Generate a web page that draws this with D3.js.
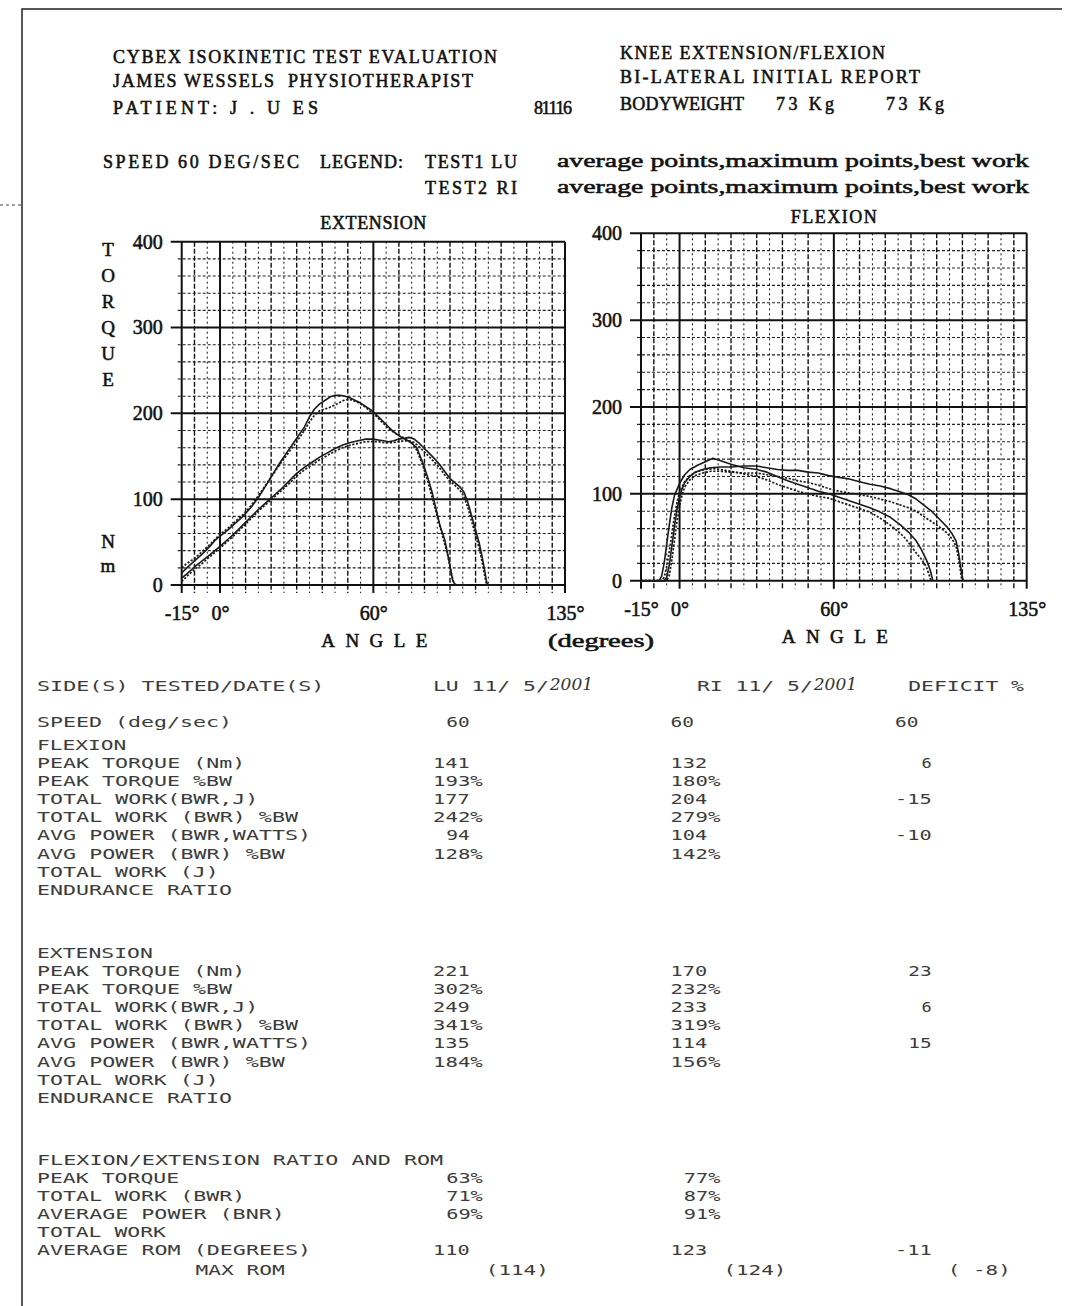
<!DOCTYPE html>
<html>
<head>
<meta charset="utf-8">
<script src="https://cdn.jsdelivr.net/npm/d3@7"></script>
<style>
  body { margin: 0; background: #fff; }
  svg { display: block; }
  .hdr { font-family: "Liberation Serif", "DejaVu Serif", serif; font-weight: normal; fill: #111; stroke: #111; stroke-width: 0.55; }
  .tbl { font-family: "DejaVu Sans Mono", monospace; fill: #3c3c3c; }
</style>
</head>
<body>
<svg id="page" width="1078" height="1306"></svg>
<script>
// ---- axis ticks ----
const angleTicks = [-15, 0, 60, 135];
const torqueTicks = [0, 100, 200, 300, 400];

// ---- extension curves: [angle (deg), torque (Nm)] ----
const extLUmax = [[-15,14],[-13,20],[-10,28],[-7,36],[-4,45],[-2,52],[0,57],[3,64],[6,72],[9,80],[12,90],[15,102],[18,116],[21,131],[24,145],[27,158],[30,171],[33,184],[35,196],[37,205],[39,211],[41,215],[43,219],[45,221],[47,221],[49,220],[51,218],[53,215],[55,212],[57,208],[59,204],[61,199],[63,193],[65,187],[67,181],[69,176],[71,172],[73,169],[75,165],[77,160],[79,145],[81,128],[83,108],[84,95],[86,70],[88,52],[89.5,30],[91,6],[92,0],[96,0]];
const extLUavg = [[-15,20],[-13,25],[-10,31],[-7,39],[-4,47],[-2,53],[0,59],[3,66],[6,74],[9,82],[12,92],[15,104],[18,117],[21,130],[24,143],[27,155],[30,167],[33,180],[35,190],[37,198],[39,203],[41,205],[43,207],[45,210],[47,213],[49,216],[51,216],[53,214],[55,211],[57,207],[59,202],[61,197],[63,191],[65,185],[67,180],[69,176],[71,173],[73,170],[75,166],[77,157],[79,142],[81,124],[83,102],[85,80],[87,58],[89,36],[90.5,14],[91.5,2],[92.5,0],[97,0]];
const extRImax = [[-15,8],[-13,13],[-10,21],[-7,28],[-4,35],[-2,40],[0,45],[3,53],[6,61],[9,70],[12,79],[15,88],[18,96],[21,104],[24,112],[27,121],[30,130],[33,137],[36,143],[39,149],[42,154],[45,159],[48,163],[51,166],[54,168],[57,170],[60,170],[62,169],[64,168],[66,167],[68,168],[70,170],[72,171],[74,172],[76,170],[78,165],[80,159],[82,153],[84,147],[86,140],[88,132],[90,124],[92,119],[94,114],[95.5,108],[97,96],[98.5,80],[100,64],[101.5,48],[102.5,34],[103.5,18],[104.3,4],[104.8,0],[109,0]];
const extRIavg = [[-15,4],[-13,10],[-10,18],[-7,25],[-4,33],[-2,38],[0,43],[3,51],[6,59],[9,68],[12,77],[15,86],[18,94],[21,102],[24,110],[27,118],[30,127],[33,134],[36,140],[39,146],[42,151],[45,156],[48,160],[51,163],[54,165],[57,167],[60,167],[62,167],[64,166],[66,166],[68,166],[70,167],[72,168],[74,168],[76,166],[78,161],[80,155],[82,149],[84,143],[86,136],[88,128],[90,121],[92,116],[94,110],[95.5,103],[97,90],[98.5,74],[100,58],[101.5,42],[102.5,28],[103.5,12],[104.2,2],[104.5,0],[108,0]];

// ---- flexion curves ----
const flxRImax = [[-15,0],[-6,0],[-5,4],[-4,18],[-3,40],[-2,62],[-1,82],[0,96],[1,106],[2,113],[4,120],[6,125],[9,128],[12,130],[16,131],[20,131],[25,132],[30,132],[34,130],[38,128],[42,127],[46,127],[50,125],[54,124],[58,121],[62,119],[66,117],[70,114],[74,111],[78,109],[82,106],[86,102],[89,99],[92,94],[95,87],[98,80],[101,71],[104,62],[106,54],[107.5,46],[108.5,32],[109.3,16],[110,4],[110.4,0]];
const flxRIavg = [[-15,0],[-5,0],[-4,6],[-3,24],[-2,46],[-1,68],[0,86],[1,99],[2,108],[4,116],[6,121],[9,124],[12,126],[16,126],[20,125],[25,124],[30,124],[34,122],[38,120],[42,118],[46,115],[50,113],[54,110],[58,106],[62,103],[66,101],[70,99],[74,97],[78,94],[82,91],[86,87],[89,84],[92,80],[95,74],[98,68],[101,62],[104,55],[106,48],[107.5,40],[108.5,26],[109.3,10],[109.8,0]];
const flxLUmax = [[-15,0],[-8,0],[-7,5],[-6,20],[-5,42],[-4,64],[-3,84],[-2,98],[0,112],[2,122],[4,128],[7,133],[10,137],[13,141],[16,138],[20,134],[25,130],[30,128],[34,125],[38,120],[42,115],[46,111],[50,107],[54,103],[58,100],[62,96],[66,92],[70,88],[74,84],[78,79],[82,73],[86,64],[89,56],[92,46],[94,36],[96,24],[97.5,12],[98.5,0]];
const flxLUavg = [[-15,0],[-7,0],[-6,4],[-5,16],[-4,34],[-3,54],[-2,74],[-1,90],[0,102],[2,114],[4,121],[7,126],[10,128],[13,129],[16,128],[20,126],[25,123],[30,120],[34,116],[38,111],[42,107],[46,103],[50,100],[54,97],[58,95],[62,91],[66,87],[70,83],[74,79],[78,72],[82,64],[86,54],[88,48],[90,40],[92,32],[94,25],[96,16],[97,7],[97.8,0]];

// ---- results table ----
const rowLabels = ["PEAK TORQUE (Nm)", "PEAK TORQUE %BW", "TOTAL WORK(BWR,J)", "TOTAL WORK (BWR) %BW",
                   "AVG POWER (BWR,WATTS)", "AVG POWER (BWR) %BW", "TOTAL WORK (J)", "ENDURANCE RATIO"];
const flexLU  = ["141", "193%", "177", "242%", "94", "128%", "", ""];
const flexRI  = ["132", "180%", "204", "279%", "104", "142%", "", ""];
const flexDef = ["6", "", "-15", "", "-10", "", "", ""];
const extLU   = ["221", "302%", "249", "341%", "135", "184%", "", ""];
const extRI   = ["170", "232%", "233", "319%", "114", "156%", "", ""];
const extDef  = ["23", "", "6", "", "15", "", "", ""];
const ratioLabels = ["PEAK TORQUE", "TOTAL WORK (BWR)", "AVERAGE POWER (BNR)", "TOTAL WORK", "AVERAGE ROM (DEGREES)"];
const ratioLU  = ["63%", "71%", "69%", "", "110"];
const ratioRI  = ["77%", "87%", "91%", "", "123"];
const ratioDef = ["", "", "", "", "-11"];
const maxRom = ["(114)", "(124)", "( -8)"];
const speedVals = ["60", "60", "60"];

const svg = d3.select("#page");

// page frame
svg.append("path").attr("d", "M22,1306 V9 H1062")
  .attr("fill", "none").attr("stroke", "#222").attr("stroke-width", 1.5);
svg.append("line").attr("x1", 0).attr("x2", 22).attr("y1", 205).attr("y2", 205)
  .attr("stroke", "#444").attr("stroke-width", 1).attr("stroke-dasharray", "3,3");

// ---- printed header (fitted to the printer's run lengths) ----
function hdr(txt, x, y, width, stretch) {
  const t = svg.append("text").attr("class", "hdr").attr("x", x).attr("y", y)
    .attr("font-size", 18).text(txt);
  if (width) t.attr("textLength", width)
    .attr("lengthAdjust", stretch ? "spacingAndGlyphs" : "spacing");
  return t;
}
hdr("CYBEX ISOKINETIC TEST EVALUATION", 113, 63, 384);
hdr("JAMES WESSELS\u00a0\u00a0PHYSIOTHERAPIST", 113, 87, 360);
hdr("PATIENT: J . U ES", 113, 114, 205);
hdr("81116", 534, 114, 38);
hdr("KNEE EXTENSION/FLEXION", 620, 59, 265);
hdr("BI-LATERAL INITIAL REPORT", 620, 83, 300);
hdr("BODYWEIGHT", 620, 110, 124);
hdr("73 Kg", 776, 110, 58);
hdr("73 Kg", 886, 110, 58);
hdr("SPEED 60 DEG/SEC", 103, 168, 196);
hdr("LEGEND:", 320, 168, 83);
hdr("TEST1 LU", 425, 168, 92);
hdr("TEST2 RI", 425, 194, 92);
hdr("average points,maximum points,best work", 557, 167, 472, true).attr("font-size", 19);
hdr("average points,maximum points,best work", 557, 193, 472, true).attr("font-size", 19);

// ---- torque / angle charts ----
function drawChart(xRange, yRange, title, titleY, titleW) {
  const x = d3.scaleLinear().domain([-15, 135]).range(xRange);
  const y = d3.scaleLinear().domain([0, 400]).range(yRange);
  const g = svg.append("g");
  const degs = d3.range(-15, 136, 5);
  const nms = d3.range(0, 401, 20);
  const heavyX = d => d === -15 || d === 0 || d === 60 || d === 135;

  // minor horizontal grid (every 20 Nm)
  g.selectAll(".hg").data(nms.filter(d => d % 100 !== 0)).join("line")
    .attr("x1", x(-15) - 4).attr("x2", x(135))
    .attr("y1", d => y(d)).attr("y2", d => y(d))
    .attr("stroke", "#222").attr("stroke-width", 1.1).attr("stroke-dasharray", "3,2");
  // vertical grid (every 5 deg)
  g.selectAll(".vg").data(degs).join("line")
    .attr("x1", d => x(d)).attr("x2", d => x(d))
    .attr("y1", y(400)).attr("y2", y(0) + 8)
    .attr("stroke", "#111")
    .attr("stroke-width", d => heavyX(d) ? 2 : (d % 10 === 0 ? 1.4 : 1))
    .attr("stroke-dasharray", d => heavyX(d) ? null : (d % 10 === 0 ? "5,2" : "2,3"));
  // major horizontal lines (every 100 Nm)
  g.selectAll(".hm").data(torqueTicks).join("line")
    .attr("x1", x(-15) - 11).attr("x2", x(135))
    .attr("y1", d => y(d)).attr("y2", d => y(d))
    .attr("stroke", "#111").attr("stroke-width", 2);

  // axis labels
  const yAxis = d3.axisLeft(y).tickValues(torqueTicks).tickSize(0).tickPadding(19);
  const ya = g.append("g").attr("transform", `translate(${x(-15)},0)`).call(yAxis);
  const xAxis = d3.axisBottom(x).tickValues(angleTicks).tickSize(0).tickPadding(21)
    .tickFormat(d => d + "\u00b0");
  const xa = g.append("g").attr("transform", `translate(0,${y(0)})`).call(xAxis);
  [ya, xa].forEach(a => {
    a.select(".domain").remove();
    a.selectAll("text").attr("class", "hdr").attr("font-size", 20).attr("fill", "#111");
  });

  g.append("text").attr("class", "hdr").attr("font-size", 18)
    .attr("x", x(60) - titleW / 2).attr("y", titleY)
    .attr("textLength", titleW).attr("lengthAdjust", "spacing").text(title);
  g.append("text").attr("class", "hdr").attr("font-size", 19)
    .attr("x", x(60) - 52).attr("y", y(0) + 62)
    .attr("textLength", 106).attr("lengthAdjust", "spacing").text("ANGLE");
  return { x, y, g };
}

const ext = drawChart([181.7, 565], [585, 241.7], "EXTENSION", 229, 106);
const flx = drawChart([641, 1026.7], [580.7, 233.3], "FLEXION", 223, 86);

svg.append("text").attr("class", "hdr").attr("font-size", 19)
  .attr("x", 548).attr("y", 647).attr("textLength", 106)
  .attr("lengthAdjust", "spacingAndGlyphs").text("(degrees)");

// vertical axis title
const torqueLetters = ["T", "O", "R", "Q", "U", "E"];
svg.selectAll(".tq").data(torqueLetters).join("text")
  .attr("class", "hdr").attr("font-size", 19).attr("text-anchor", "middle")
  .attr("x", 108).attr("y", (d, i) => 256 + i * 26).text(d => d);
svg.append("text").attr("class", "hdr").attr("font-size", 19).attr("text-anchor", "middle")
  .attr("x", 108).attr("y", 548).text("N");
svg.append("text").attr("class", "hdr").attr("font-size", 19).attr("text-anchor", "middle")
  .attr("x", 108).attr("y", 572).text("m");

// curves
function curve(chart, data, dotted) {
  const line = d3.line().x(d => chart.x(d[0])).y(d => chart.y(d[1]));
  chart.g.append("path").datum(data).attr("d", line)
    .attr("fill", "none").attr("stroke", "#1a1a1a")
    .attr("stroke-width", dotted ? 1.7 : 1.6)
    .attr("stroke-linejoin", "round")
    .attr("stroke-dasharray", dotted ? "2.2,1.6" : null);
}
curve(ext, extLUmax, false);
curve(ext, extLUavg, true);
curve(ext, extRImax, false);
curve(ext, extRIavg, true);
curve(flx, flxLUmax, false);
curve(flx, flxLUavg, true);
curve(flx, flxRImax, false);
curve(flx, flxRIavg, true);

// ---- results table (fixed-pitch printout) ----
const cw = 13.2, tx0 = 37;
const colX = n => tx0 + n * cw;
function cell(str, col, yb) {
  if (!str) return;
  svg.append("text").attr("class", "tbl").attr("font-size", 14)
    .attr("x", colX(col)).attr("y", yb)
    .attr("textLength", str.length * cw - 3).attr("lengthAdjust", "spacingAndGlyphs")
    .text(str);
}
// right-align the digits on a column, a trailing % sits after them
function num(str, endCol, yb) {
  if (!str) return;
  const digits = str.replace("%", "").length;
  cell(str, endCol - digits, yb);
}

cell("SIDE(S) TESTED/DATE(S)", 0, 691);
cell("LU 11/ 5/", 30, 691);
cell("RI 11/ 5/", 50, 691);
cell("DEFICIT %", 66, 691);
// handwritten year
[[colX(39) - 2, 690], [colX(59) - 2, 690]].forEach(p => {
  svg.append("text").attr("x", p[0]).attr("y", p[1])
    .attr("font-family", "DejaVu Serif").attr("font-style", "italic")
    .attr("font-size", 17).attr("fill", "#333").text("2001");
});

cell("SPEED (deg/sec)", 0, 727);
[31, 48, 65].forEach((c, i) => cell(speedVals[i], c, 727));

cell("FLEXION", 0, 750);
rowLabels.forEach((lab, i) => {
  const yb = 768 + i * 18.1;
  cell(lab, 0, yb);
  num(flexLU[i], 33, yb);
  num(flexRI[i], 51, yb);
  num(flexDef[i], 68, yb);
});

cell("EXTENSION", 0, 958);
rowLabels.forEach((lab, i) => {
  const yb = 976 + i * 18.1;
  cell(lab, 0, yb);
  num(extLU[i], 33, yb);
  num(extRI[i], 51, yb);
  num(extDef[i], 68, yb);
});

cell("FLEXION/EXTENSION RATIO AND ROM", 0, 1165);
ratioLabels.forEach((lab, i) => {
  const yb = 1183 + i * 18.1;
  cell(lab, 0, yb);
  num(ratioLU[i], 33, yb);
  num(ratioRI[i], 51, yb);
  num(ratioDef[i], 68, yb);
});
cell("MAX ROM", 12, 1275);
cell(maxRom[0], 34, 1275);
cell(maxRom[1], 52, 1275);
cell(maxRom[2], 69, 1275);
</script>
</body>
</html>
